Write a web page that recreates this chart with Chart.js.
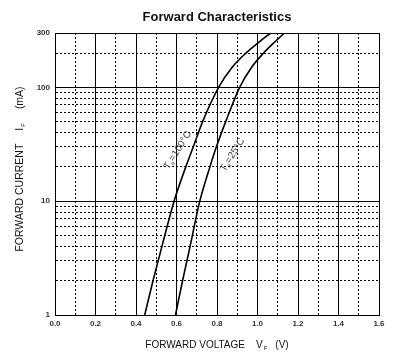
<!DOCTYPE html>
<html lang="en">
<head>
    <meta charset="UTF-8">
    <title>Forward Characteristics</title>
    <script src="https://cdn.jsdelivr.net/npm/chart.js"></script>
    <style>
        body {
            margin: 0;
            background-color: #ffffff;
        }
        #wrap {
            width: 413px;
            height: 358px;
        }
    </style>
</head>
<body>
    <div id="wrap"><canvas id="chart"></canvas></div>

    <script>
        // curve data (forward voltage V, current mA)
        const v100 = [0.443, 0.484, 0.528, 0.588, 0.646, 0.683, 0.729, 0.808, 0.875, 0.943, 1.008, 1.065];
        const i100 = [1, 2, 4, 10, 20, 30, 50, 100, 150, 200, 250, 300];
        const v25 = [0.595, 0.630, 0.667, 0.715, 0.765, 0.797, 0.843, 0.912, 0.971, 1.030, 1.085, 1.133];
        const i25 = [1, 2, 4, 10, 20, 30, 50, 100, 150, 200, 250, 300];

        // grid / tick values
        const yGridValues = [1, 2, 3, 4, 5, 6, 7, 8, 9, 10, 20, 30, 40, 50, 60, 70, 80, 90, 100, 200, 300];
        const yTickLabels = [1, 10, 100, 300];
        const ySolidLines = [1, 10, 100, 300];

        // where the curve labels sit (data coords)
        const label100 = { v: 0.606, i: 28, text: '=100°C' };
        const label25 = { v: 0.877, i: 25.5, text: '=25°C' };

        const FONT = '"Liberation Sans", Arial, sans-serif';

        function toPoints(xs, ys) {
            return xs.map((x, k) => ({ x: x, y: ys[k] }));
        }

        // draw a run of text pieces, some of them subscripts
        function drawPieces(ctx, pieces) {
            let w = 0;
            pieces.forEach(p => {
                ctx.font = p.size + 'px ' + FONT;
                p.w = ctx.measureText(p.t).width;
                w += p.w + (p.gap || 0);
            });
            let x = -w / 2;
            pieces.forEach(p => {
                ctx.font = p.size + 'px ' + FONT;
                ctx.fillText(p.t, x, p.dy || 0);
                x += p.w + (p.gap || 0);
            });
        }

        const textPlugin = {
            id: 'textPlugin',
            afterDraw(chart) {
                const ctx = chart.ctx;
                const xs = chart.scales.x;
                const ys = chart.scales.y;
                const area = chart.chartArea;
                const midX = (area.left + area.right) / 2;
                const midY = (area.top + area.bottom) / 2;

                ctx.save();
                ctx.fillStyle = '#111';
                ctx.textBaseline = 'middle';
                ctx.textAlign = 'left';

                // title
                ctx.save();
                ctx.translate(midX, 17);
                ctx.font = 'bold 13px ' + FONT;
                ctx.textAlign = 'center';
                ctx.fillText('Forward Characteristics', 0, 0);
                ctx.restore();

                // x axis title
                ctx.save();
                ctx.translate(midX, 345);
                drawPieces(ctx, [
                    { t: 'FORWARD VOLTAGE', size: 10, gap: 11 },
                    { t: 'V', size: 10, gap: 1 },
                    { t: 'F', size: 6, dy: 3, gap: 8 },
                    { t: '(V)', size: 10 }
                ]);
                ctx.restore();

                // y axis title
                ctx.save();
                ctx.translate(20, midY - 5);
                ctx.rotate(-Math.PI / 2);
                drawPieces(ctx, [
                    { t: 'FORWARD CURRENT', size: 10.5, gap: 13 },
                    { t: 'I', size: 10.5, gap: 1 },
                    { t: 'F', size: 6, dy: 3, gap: 14 },
                    { t: '(mA)', size: 10.5 }
                ]);
                ctx.restore();

                // curve labels
                ctx.fillStyle = '#444';
                [label100, label25].forEach(lb => {
                    ctx.save();
                    ctx.translate(xs.getPixelForValue(lb.v), ys.getPixelForValue(lb.i));
                    ctx.rotate(-58 * Math.PI / 180);
                    drawPieces(ctx, [
                        { t: 'T', size: 10, gap: 0 },
                        { t: 'a', size: 6, dy: 3, gap: 0 },
                        { t: lb.text, size: 10 }
                    ]);
                    ctx.restore();
                });
                ctx.restore();
            }
        };

        function dotted(isSolid) {
            return isSolid ? [] : [2, 2];
        }

        new Chart(document.getElementById('chart'), {
            type: 'scatter',
            data: {
                datasets: [
                    {
                        label: 'Ta=100°C',
                        data: toPoints(v100, i100),
                        showLine: true,
                        borderColor: '#000',
                        borderWidth: 1.6,
                        pointRadius: 0,
                        cubicInterpolationMode: 'monotone'
                    },
                    {
                        label: 'Ta=25°C',
                        data: toPoints(v25, i25),
                        showLine: true,
                        borderColor: '#000',
                        borderWidth: 1.6,
                        pointRadius: 0,
                        cubicInterpolationMode: 'monotone'
                    }
                ]
            },
            options: {
                responsive: true,
                maintainAspectRatio: false,
                animation: false,
                layout: {
                    padding: { left: 0, right: 34, top: 33, bottom: 0 }
                },
                plugins: {
                    legend: { display: false },
                    title: { display: false },
                    tooltip: { enabled: false }
                },
                scales: {
                    x: {
                        type: 'linear',
                        min: 0,
                        max: 1.6,
                        afterFit: s => { s.height = 43; },
                        ticks: {
                            stepSize: 0.1,
                            autoSkip: false,
                            maxRotation: 0,
                            padding: 4,
                            color: '#333',
                            font: { family: FONT, size: 8, weight: 'bold' },
                            callback: v => (Math.round(v * 10) % 2 === 0 ? v.toFixed(1) : '')
                        },
                        grid: {
                            color: '#000',
                            lineWidth: 1,
                            drawTicks: false
                        },
                        border: {
                            color: '#000',
                            dash: c => (c.tick ? dotted(Math.round(c.tick.value * 10) % 2 === 0) : [])
                        }
                    },
                    y: {
                        type: 'logarithmic',
                        min: 1,
                        max: 300,
                        afterFit: s => { s.width = 55; },
                        afterBuildTicks: s => {
                            s.ticks = yGridValues.map(v => ({ value: v }));
                        },
                        ticks: {
                            autoSkip: false,
                            padding: 5,
                            color: '#333',
                            font: { family: FONT, size: 8, weight: 'bold' },
                            callback: v => (yTickLabels.includes(v) ? String(v) : '')
                        },
                        grid: {
                            color: '#000',
                            lineWidth: 1,
                            drawTicks: false
                        },
                        border: {
                            color: '#000',
                            dash: c => (c.tick ? dotted(ySolidLines.includes(c.tick.value)) : [])
                        }
                    }
                }
            },
            plugins: [textPlugin]
        });
    </script>
</body>
</html>
